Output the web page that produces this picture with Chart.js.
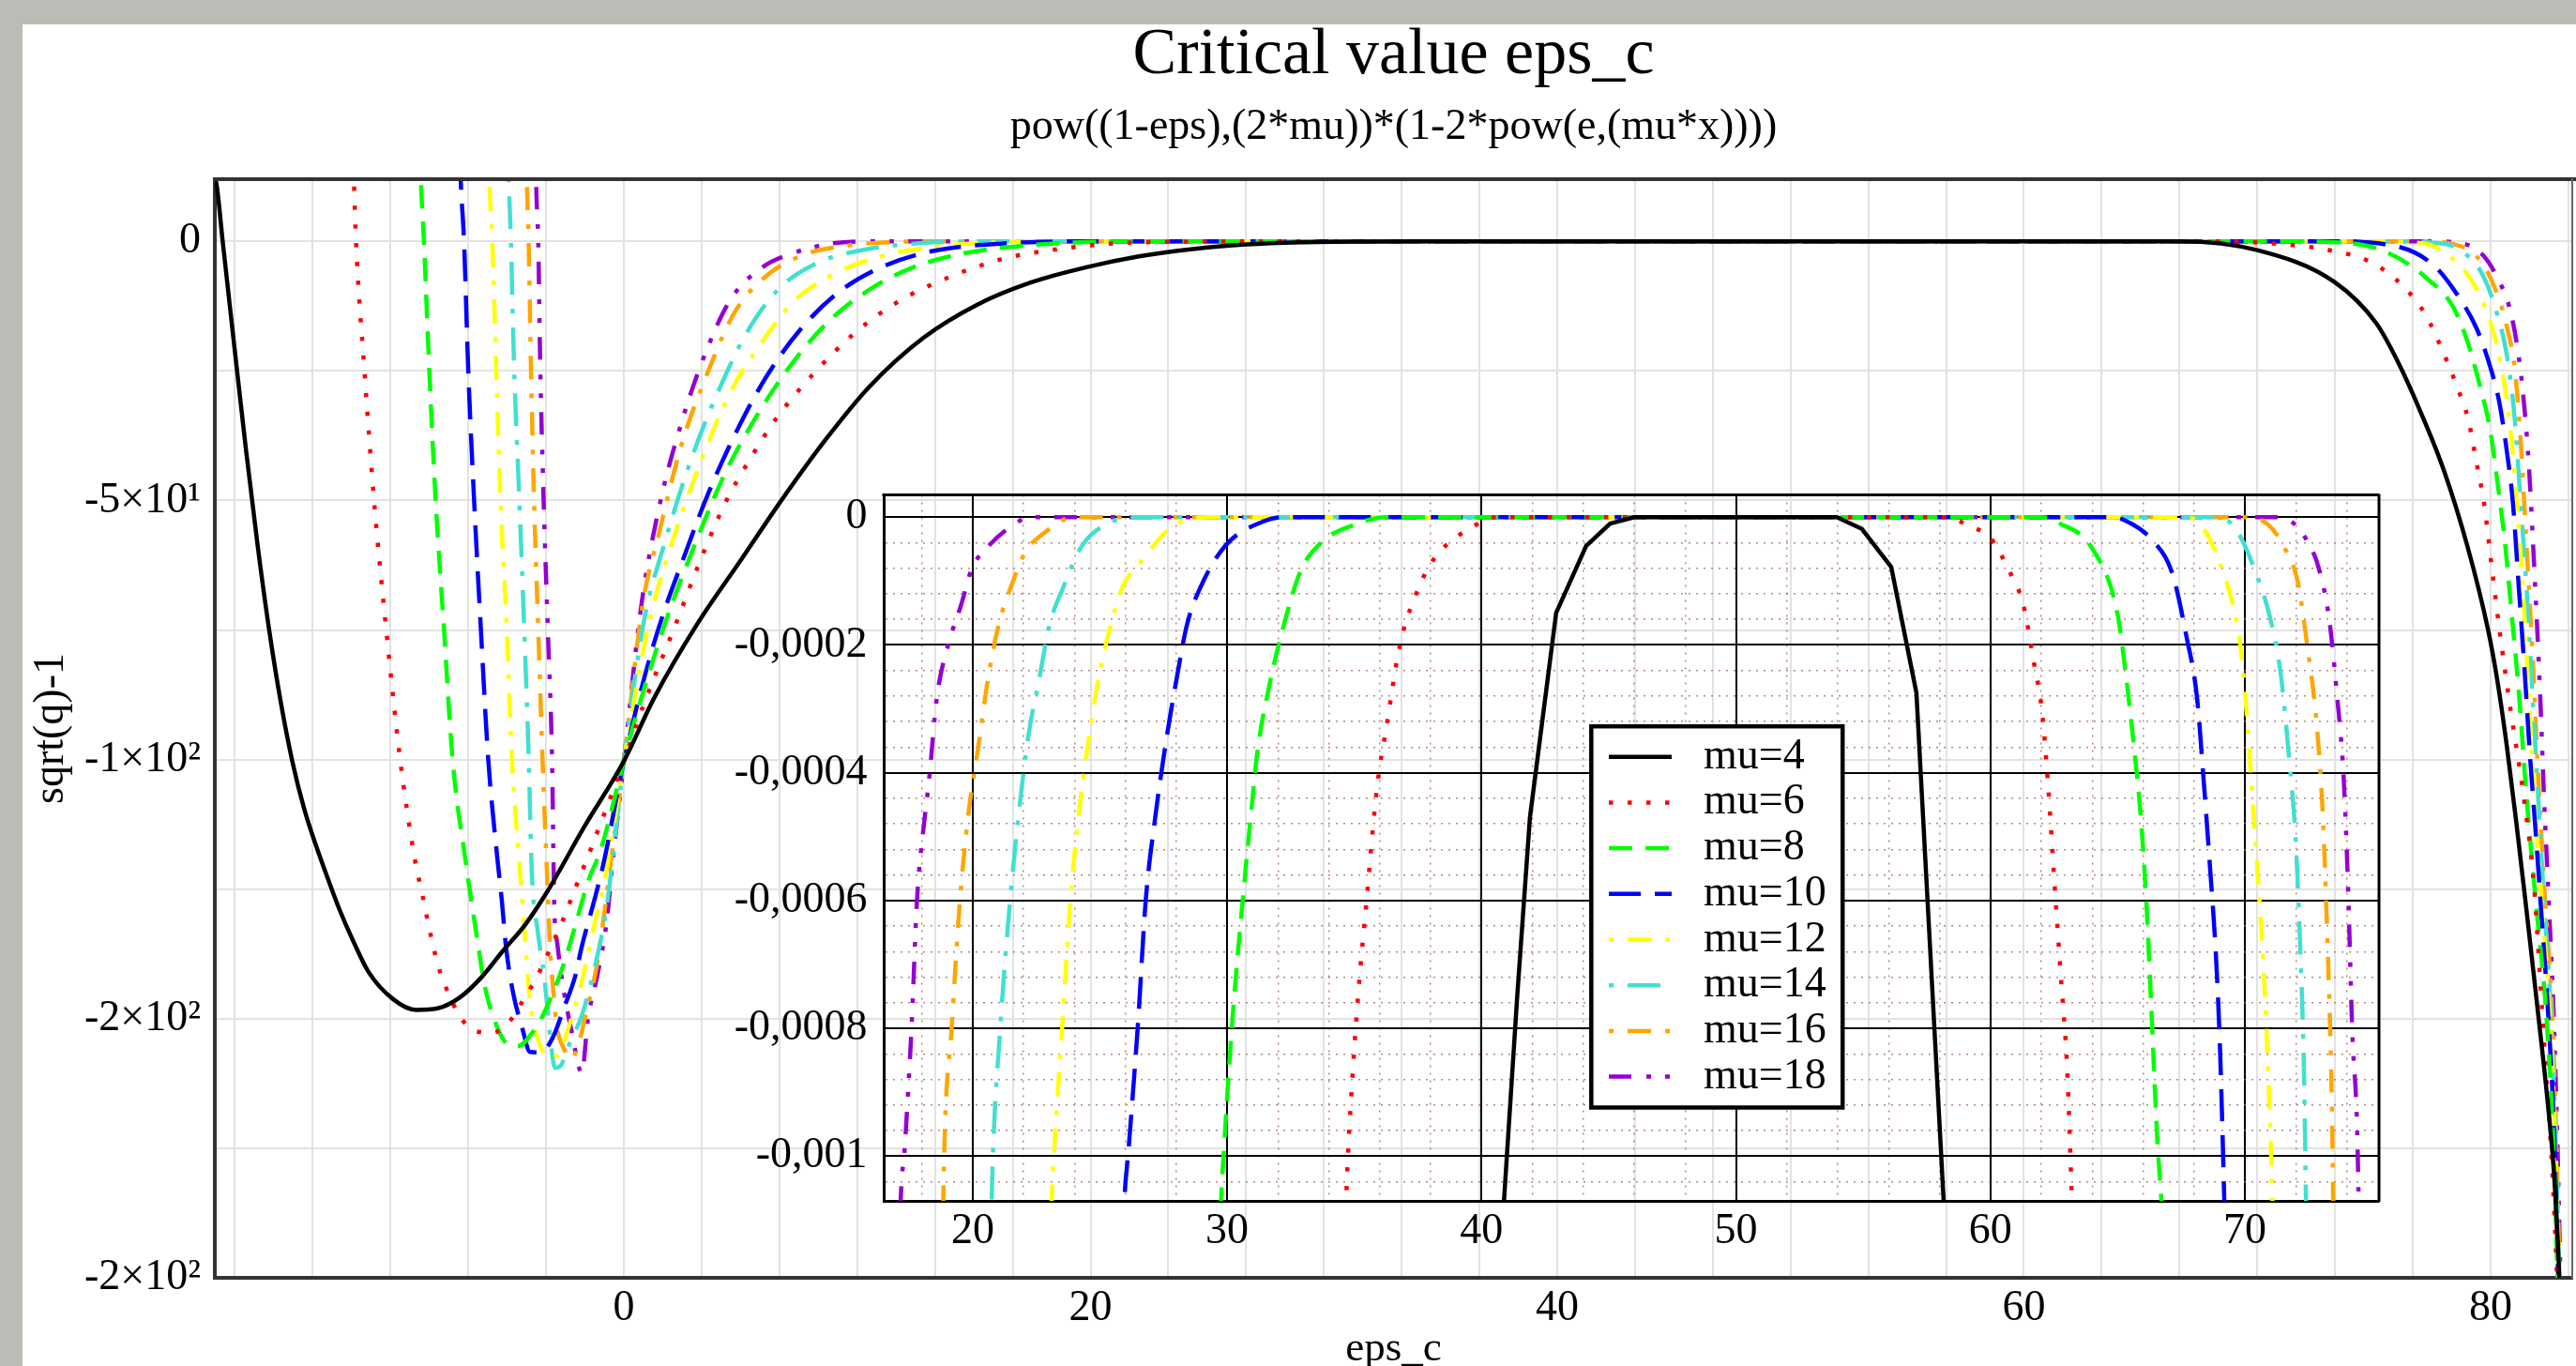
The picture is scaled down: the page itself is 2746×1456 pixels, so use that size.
<!DOCTYPE html>
<html>
<head>
<meta charset="utf-8">
<script src="https://cdn.jsdelivr.net/npm/chart.js@4.4.1/dist/chart.umd.min.js"></script>
<style>
html,body{margin:0;padding:0;background:#babcb6;width:2746px;height:1456px;overflow:hidden;}
#panel{position:absolute;left:24px;top:26px;width:2722px;height:1430px;background:#ffffff;}
#mainWrap{position:absolute;left:0;top:0;width:2746px;height:1456px;}
#insetWrap{position:absolute;left:780px;top:500px;width:1780px;height:860px;}
</style>
</head>
<body>
<div id="panel"></div>
<div id="mainWrap"><canvas id="main" width="2746" height="1456"></canvas></div>
<div id="insetWrap"><canvas id="inset" width="1780" height="860"></canvas></div>
<script>
// ---------------- DATA ----------------
const muLabels = ['mu=4','mu=6','mu=8','mu=10','mu=12','mu=14','mu=16','mu=18'];

const mainXTickValues = [0, 20, 40, 60, 80];
const mainXTickLabels = ['0', '20', '40', '60', '80'];
const mainYTickValues = [0, -50, -100, -150, -200];
const mainYTickLabels = ['0', '-5×10¹', '-1×10²', '-2×10²', '-2×10²'];

const insetXTickValues = [20, 30, 40, 50, 60, 70];
const insetXTickLabels = ['20', '30', '40', '50', '60', '70'];
const insetYTickValues = [0, -0.0002, -0.0004, -0.0006, -0.0008, -0.001];
const insetYTickLabels = ['0', '-0,0002', '-0,0004', '-0,0006', '-0,0008', '-0,001'];

const mainXRange = [-17.53, 83.5];
const mainYRange = [-200, 12];
const insetXRange = [16.52, 75.27];
const insetYRange = [-0.00107, 0.0000349];

// main chart series  [eps_c, sqrt(q)-1]
const main_mu4 = [[-17.6,13],[-17.45,10.8],[-17.2,0.3],[-16.7,-20],[-16.2,-40],[-15.7,-58.5],[-15.2,-75],[-14.7,-89],[-14.2,-100.5],[-13.7,-109.5],[-13.2,-116.5],[-12.7,-122.8],[-12.2,-128.8],[-11.6,-135],[-10.94,-141],[-9.87,-146.3],[-8.9,-148.3],[-7.98,-148],[-7.0,-145.8],[-6.1,-142],[-5.2,-137],[-4.22,-131.8],[-3.3,-125.6],[-1.7,-113],[0,-100.3],[1.3,-88.1],[3.15,-73.8],[5.0,-61.6],[6.84,-49.4],[8.69,-38.0],[10.53,-28.0],[12.84,-18.6],[15.15,-12.2],[17.46,-7.9],[19.77,-5.05],[22.07,-2.9],[24.38,-1.47],[26.69,-0.6],[29.0,-0.18],[31.5,-0.03],[34,0],[66.7,0],[70.0,-1.7],[73.3,-7.8],[75.1,-15.8],[76.0,-23],[77.0,-32.9],[78.0,-44.2],[79.0,-58.7],[79.89,-74.9],[80.3,-85],[80.7,-97.5],[81.1,-112],[81.5,-127.5],[82.0,-147.5],[82.5,-168.5],[82.75,-182],[82.95,-200.5],[83.05,-215]];
const main_mu6 = [[-11.7,25],[-11.57,11.6],[-11.48,0.1],[-11.12,-24.8],[-10.71,-49.8],[-10.19,-74.7],[-9.6,-99.5],[-8.98,-118.7],[-8.64,-126],[-8.31,-133.2],[-7.97,-139.6],[-7.64,-143.8],[-7.3,-147.3],[-6.97,-150],[-6.36,-152.4],[-5.63,-152.7],[-4.96,-150.9],[-4.49,-147.7],[-3.69,-141.6],[-3.35,-138.4],[-2.68,-131.7],[-2.08,-124.8],[-1.48,-118.0],[0,-100.3],[0.84,-89.5],[2.23,-73.8],[3.15,-63],[4.3,-50.9],[5.46,-41.6],[6.61,-33.7],[8.22,-25.1],[9.84,-17.9],[11.69,-11.8],[14.0,-6.8],[16.3,-3.3],[18.61,-1.5],[20.92,-0.4],[23.2,-0.1],[26,0],[68,0],[70.94,-0.5],[73.1,-1.7],[74.91,-4.1],[76.24,-8.6],[77.23,-14.3],[77.98,-21.5],[78.56,-28.0],[79.05,-34.5],[79.39,-42.5],[79.72,-50.6],[80.05,-62.8],[80.38,-74.9],[80.88,-91.1],[81.42,-107.2],[81.87,-124.8],[82.12,-142.3],[82.37,-159.8],[82.62,-177.3],[82.85,-200.4],[82.95,-215]];
const main_mu8 = [[-8.8,25],[-8.7,11.6],[-8.57,0.1],[-8.34,-24.8],[-8.07,-49.8],[-7.71,-74.7],[-7.35,-99.5],[-6.77,-120],[-6.5,-128.4],[-6.23,-136.2],[-6.0,-142.9],[-5.56,-150.1],[-4.96,-155],[-4.55,-155.3],[-3.89,-152.5],[-3.42,-148.9],[-2.61,-139.9],[-2.08,-132],[-1.54,-123.6],[-1.0,-117.5],[0,-100.3],[0.38,-93.8],[1.76,-73.8],[3.15,-57.3],[4.3,-45.1],[5.69,-33.7],[7.07,-24.4],[8.69,-15.8],[10.53,-9.3],[12.38,-5.05],[14.69,-2.2],[17.46,-0.7],[19.8,-0.15],[22,0],[71,0],[74.25,-0.5],[75.91,-2.9],[77.23,-7.0],[78.39,-12.6],[79.05,-19.9],[79.55,-28.0],[79.97,-36.1],[80.3,-46.6],[80.63,-58.7],[80.88,-70.8],[81.21,-87],[81.54,-107.2],[81.95,-128],[82.4,-150],[82.7,-175],[82.87,-200.4],[82.97,-215]];
const main_mu10 = [[-7.08,25],[-6.99,11.6],[-6.85,0.1],[-6.67,-24.8],[-6.42,-49.8],[-6.13,-74.7],[-5.82,-99.5],[-5.43,-118.7],[-5.23,-127.2],[-5.05,-136.2],[-4.76,-144.7],[-4.35,-151.9],[-4.02,-156.4],[-3.55,-156.5],[-3.02,-153.4],[-2.55,-147.7],[-2.08,-141.7],[-1.81,-136.2],[-1.27,-127.2],[-0.87,-120],[0,-100.3],[1.3,-77.4],[2.69,-59.5],[3.61,-48.7],[5.0,-35.1],[6.15,-25.8],[7.53,-17.2],[9.15,-10.0],[11.0,-5.05],[13.3,-1.8],[16.3,-0.4],[19,0],[73,0],[75.91,-0.9],[77.56,-4.6],[78.56,-10.2],[79.39,-16.7],[79.97,-24],[80.38,-31.2],[80.71,-40.9],[80.96,-50.6],[81.21,-66.8],[81.46,-83],[81.7,-100],[81.9,-112],[82.15,-128],[82.48,-150],[82.75,-175],[82.9,-200.4],[83.0,-215]];
const main_mu12 = [[-5.85,25],[-5.77,11.6],[-5.64,0.1],[-5.47,-24.8],[-5.29,-49.8],[-5.02,-74.7],[-4.8,-99.5],[-4.49,-119.4],[-4.35,-127.2],[-4.22,-135.6],[-4.09,-143.5],[-3.95,-148.9],[-3.69,-153.8],[-3.28,-157.4],[-2.88,-157.2],[-2.34,-151.3],[-1.81,-142.9],[-1.27,-132],[-0.74,-121.2],[0,-100.3],[1.07,-73.8],[2.23,-55.9],[3.38,-41.6],[4.53,-29.4],[5.92,-19.4],[7.3,-11.5],[8.92,-6.5],[11.0,-2.9],[13.8,-0.8],[16.6,-0.1],[18,0],[75,0],[77.23,-0.5],[78.39,-3.4],[79.22,-7.8],[79.89,-14.3],[80.38,-22.3],[80.8,-34.5],[81.13,-50.6],[81.38,-66.8],[81.63,-87],[81.87,-107.2],[82.2,-128],[82.55,-150],[82.78,-175],[82.93,-200.4],[83.03,-215]];
const main_mu14 = [[-5.0,25],[-4.93,11.6],[-4.84,0.1],[-4.7,-24.8],[-4.48,-49.8],[-4.27,-74.7],[-4.08,-99.5],[-3.95,-121.2],[-3.69,-133.2],[-3.42,-141.7],[-3.28,-147.7],[-3.15,-153.8],[-2.95,-159.5],[-2.7,-159],[-2.3,-154.5],[-1.81,-149.5],[-1.27,-140.5],[-0.74,-128.4],[0,-100.3],[0.84,-73.8],[1.76,-58.0],[2.92,-41.6],[4.07,-28.7],[5.23,-17.9],[6.61,-9.3],[8.22,-4.3],[10.07,-1.8],[12.8,-0.3],[15,0],[76,0],[78.06,-0.5],[79.05,-2.9],[79.72,-7.0],[80.3,-14.3],[80.71,-22.3],[81.04,-34.5],[81.29,-50.6],[81.54,-66.8],[81.79,-87],[82.04,-107.2],[82.3,-128],[82.6,-150],[82.8,-175],[82.95,-200.4],[83.05,-215]];
const main_mu16 = [[-4.22,25],[-4.16,11.6],[-4.08,0.1],[-3.98,-24.8],[-3.85,-49.8],[-3.67,-74.7],[-3.49,-99.5],[-3.28,-123.6],[-3.15,-137.5],[-3.02,-144.7],[-2.88,-151.3],[-2.6,-155.5],[-2.25,-157.8],[-1.95,-155],[-1.68,-150.1],[-1.14,-139.2],[-0.6,-121.2],[0,-100.3],[0.8,-70.2],[1.53,-55.9],[2.46,-39.4],[3.61,-25.1],[4.76,-13.6],[6.15,-6.5],[7.76,-2.5],[9.4,-0.9],[11.7,-0.1],[13,0],[77,0],[78.72,-0.9],[79.55,-3.7],[80.22,-9.4],[80.71,-16.7],[81.04,-24.8],[81.29,-38.5],[81.54,-58.7],[81.79,-78.9],[82.04,-103.2],[82.35,-128],[82.65,-150],[82.83,-175],[82.97,-200.4],[83.07,-215]];
const main_mu18 = [[-3.8,25],[-3.76,11.6],[-3.67,0.1],[-3.58,-24.8],[-3.44,-49.8],[-3.26,-74.7],[-3.08,-99.5],[-2.98,-128.4],[-2.85,-135.6],[-2.55,-145.3],[-2.21,-153.1],[-1.95,-159],[-1.8,-160.4],[-1.54,-150.1],[-1.14,-141.7],[-0.74,-131.4],[-0.47,-119.4],[0,-100.3],[0.75,-70.2],[1.53,-50.9],[2.46,-35.1],[3.38,-22.9],[4.53,-11.5],[5.92,-5.05],[7.3,-2.2],[8.92,-0.4],[10.5,0],[77.5,0],[78.89,-0.5],[79.72,-2.9],[80.38,-7.8],[80.8,-12.6],[81.13,-19.9],[81.38,-28.8],[81.63,-42.5],[81.87,-62.8],[82.12,-87],[82.29,-107.2],[82.5,-128],[82.71,-150],[82.87,-175],[83.0,-200.4],[83.1,-215]];

// inset (zoom near 0) series
const inset_mu4 = [[40.71,-0.0012],[40.88,-0.00107],[41.4,-0.00075],[41.9,-0.00047],[42.93,-0.00015],[44.11,-0.000045],[45.05,-0.00001],[46.0,0],[53.96,0],[54.95,-0.0000184],[56.1,-0.000078],[57.09,-0.000275],[58.16,-0.00107],[58.33,-0.0012]];
const inset_mu6 = [[34.55,-0.0012],[34.68,-0.001065],[34.74,-0.001006],[34.95,-0.00086],[35.16,-0.000742],[35.48,-0.0006],[35.81,-0.000453],[36.0,-0.00039],[36.23,-0.000336],[36.46,-0.000277],[36.7,-0.000218],[37.05,-0.00016],[37.29,-0.000135],[37.52,-0.000111],[37.88,-0.000081],[38.35,-0.000054],[38.82,-0.000037],[39.52,-0.000018],[40.58,0],[58.5,0],[58.73,-0.000005],[59.31,-0.000016],[59.97,-0.000031],[60.71,-0.000082],[61.29,-0.000137],[61.69,-0.000224],[62.03,-0.000305],[62.27,-0.000422],[62.52,-0.000575],[62.77,-0.000721],[63.02,-0.000867],[63.18,-0.001046],[63.3,-0.0012]];
const inset_mu8 = [[29.65,-0.0012],[29.76,-0.00107],[29.87,-0.000992],[30.19,-0.000796],[30.61,-0.0006],[30.93,-0.000468],[31.18,-0.00037],[31.71,-0.000254],[32.24,-0.000167],[32.88,-0.000085],[33.72,-0.000039],[35.0,-0.000012],[36.26,0],[62.03,0],[62.68,-0.000009],[64.0,-0.000049],[64.99,-0.000151],[65.32,-0.000246],[65.65,-0.000363],[65.9,-0.000465],[66.14,-0.000612],[66.31,-0.000758],[66.56,-0.000977],[66.72,-0.00107],[66.9,-0.0012]];
const inset_mu10 = [[25.85,-0.0012],[25.96,-0.00107],[26.12,-0.000992],[26.49,-0.000796],[26.8,-0.0006],[27.18,-0.000468],[27.59,-0.000353],[28.01,-0.000254],[28.43,-0.000167],[28.96,-0.000109],[29.92,-0.000045],[31.4,-0.000007],[32.24,0],[64.83,0],[65.48,-0.000009],[66.31,-0.000034],[67.13,-0.000086],[67.71,-0.000188],[68.12,-0.000283],[68.37,-0.000407],[68.61,-0.000538],[68.86,-0.000685],[69.02,-0.00083],[69.19,-0.00107],[69.27,-0.0012]];
const inset_mu12 = [[23.0,-0.0012],[23.1,-0.00107],[23.2,-0.000992],[23.52,-0.000796],[23.84,-0.0006],[24.16,-0.000468],[24.52,-0.000358],[24.94,-0.000254],[25.36,-0.000179],[25.89,-0.000109],[26.53,-0.000074],[27.8,-0.000016],[29.28,0],[67.62,0],[68.28,-0.000012],[68.94,-0.000064],[69.52,-0.000137],[69.85,-0.00021],[70.09,-0.000319],[70.34,-0.000465],[70.59,-0.000612],[70.84,-0.000794],[71.08,-0.00107],[71.15,-0.0012]];
const inset_mu14 = [[20.68,-0.0012],[20.77,-0.00103],[21.09,-0.000796],[21.47,-0.0006],[21.85,-0.00045],[22.19,-0.000342],[22.61,-0.000254],[23.03,-0.000167],[23.57,-0.000109],[24.2,-0.000051],[24.83,-0.0000217],[26.32,0],[68.78,0],[69.6,-0.000016],[70.42,-0.000086],[71.0,-0.000159],[71.41,-0.000246],[71.74,-0.000378],[71.99,-0.000502],[72.15,-0.000648],[72.32,-0.000867],[72.4,-0.00107],[72.45,-0.0012]];
const inset_mu16 = [[18.8,-0.0012],[18.86,-0.00103],[19.18,-0.000796],[19.5,-0.0006],[19.82,-0.000468],[20.18,-0.00037],[20.6,-0.000254],[21.03,-0.000167],[21.56,-0.000103],[22.08,-0.000054],[22.72,-0.0000275],[23.99,0],[70.09,0],[70.92,-0.000012],[71.57,-0.000049],[72.07,-0.0001],[72.48,-0.00021],[72.81,-0.000319],[73.06,-0.000465],[73.23,-0.000648],[73.39,-0.000867],[73.47,-0.00107],[73.5,-0.0012]];
const inset_mu18 = [[17.1,-0.0012],[17.17,-0.00107],[17.32,-0.000992],[17.6,-0.000796],[17.81,-0.0006],[18.12,-0.000468],[18.27,-0.000417],[18.59,-0.000283],[19.02,-0.000202],[19.54,-0.000138],[19.97,-0.00008],[20.49,-0.000051],[21.45,-0.000016],[22.29,0],[71.25,0],[71.9,-0.000009],[72.4,-0.000034],[72.89,-0.000078],[73.31,-0.000159],[73.63,-0.000283],[73.88,-0.000407],[74.05,-0.000575],[74.21,-0.000794],[74.46,-0.00105],[74.5,-0.0012]];

const mainSeries = [main_mu4, main_mu6, main_mu8, main_mu10, main_mu12, main_mu14, main_mu16, main_mu18];
const insetSeries = [inset_mu4, inset_mu6, inset_mu8, inset_mu10, inset_mu12, inset_mu14, inset_mu16, inset_mu18];

// ---------------- STYLES ----------------
const FONT = "'Liberation Serif', 'Times New Roman', serif";
const seriesColors = ['#000000', '#ff0000', '#00ff00', '#0000ff', '#ffff00', '#40e0d0', '#ffa500', '#9400d3'];
const seriesDashes = [[], [4.5, 15.5], [25, 14], [34, 15], [5, 15, 26, 14], [5, 15, 35, 15], [5, 15, 25, 15], [24, 16, 5, 15, 5, 15]];
const LINE_W = 4.5;

function gridValues(min, max, step) {
  const out = [];
  const k0 = Math.ceil(min / step - 1e-9), k1 = Math.floor(max / step + 1e-9);
  for (let k = k0; k <= k1; k++) out.push(k * step);
  return out;
}
function labelFor(v, values, labels) {
  for (let i = 0; i < values.length; i++) {
    if (Math.abs(v - values[i]) <= 1e-12 + 1e-6 * Math.abs(values[i])) return labels[i];
  }
  return '';
}
function isMultiple(v, step) {
  const r = v / step;
  return Math.abs(r - Math.round(r)) < 1e-6;
}

const framePlugin = {
  id: 'frame',
  afterDraw(chart, args, opts) {
    const {left, right, top, bottom} = chart.chartArea;
    const ctx = chart.ctx;
    ctx.save();
    (opts.sides || []).forEach(s => {
      ctx.beginPath();
      ctx.setLineDash([]);
      ctx.lineWidth = s.width;
      ctx.strokeStyle = s.color;
      if (s.side === 'top') { ctx.moveTo(left - 2, top); ctx.lineTo(right + (s.extend || 0), top); }
      if (s.side === 'right') { ctx.moveTo(right, top - 1); ctx.lineTo(right, bottom + 1); }
      ctx.stroke();
    });
    ctx.restore();
  }
};

const insetLegendPlugin = {
  id: 'insetLegend',
  afterDraw(chart, args, o) {
    const ctx = chart.ctx;
    ctx.save();
    ctx.fillStyle = '#ffffff';
    ctx.fillRect(o.left, o.top, o.right - o.left, o.bottom - o.top);
    ctx.lineWidth = o.borderWidth;
    ctx.strokeStyle = '#000000';
    ctx.setLineDash([]);
    ctx.strokeRect(o.left, o.top, o.right - o.left, o.bottom - o.top);
    chart.data.datasets.forEach((ds, i) => {
      const y = o.firstRow + i * o.rowStep;
      ctx.beginPath();
      ctx.setLineDash(ds.borderDash || []);
      ctx.lineCap = 'butt';
      ctx.strokeStyle = ds.borderColor;
      ctx.lineWidth = ds.borderWidth;
      ctx.moveTo(o.sampleX0, y);
      ctx.lineTo(o.sampleX1, y);
      ctx.stroke();
      ctx.setLineDash([]);
      ctx.fillStyle = '#000000';
      ctx.font = o.fontSize + 'px ' + FONT;
      ctx.textBaseline = 'middle';
      ctx.textAlign = 'left';
      ctx.fillText(ds.label, o.textX, y);
    });
    ctx.restore();
  }
};

function makeDatasets(seriesList, smoothFirst) {
  return seriesList.map((d, i) => ({
    label: muLabels[i],
    data: d,
    borderColor: seriesColors[i],
    backgroundColor: seriesColors[i],
    borderDash: seriesDashes[i],
    borderWidth: LINE_W,
    borderCapStyle: 'butt',
    borderJoinStyle: 'round',
    pointRadius: 0,
    fill: false,
    tension: (i === 0 && !smoothFirst) ? 0 : 0.4,
    cubicInterpolationMode: (i === 0 && !smoothFirst) ? 'default' : 'monotone'
  }));
}

// ---------------- MAIN CHART ----------------
const mainXGrid = gridValues(mainXRange[0], mainXRange[1], 10 / 3);
const mainYGrid = gridValues(mainYRange[0], mainYRange[1], 25);

new Chart(document.getElementById('main'), {
  type: 'line',
  data: { datasets: makeDatasets(mainSeries, true) },
  plugins: [framePlugin],
  options: {
    responsive: false,
    maintainAspectRatio: false,
    devicePixelRatio: 1,
    animation: false,
    events: [],
    layout: { padding: { left: 24, right: 4, top: 0, bottom: 0 }, autoPadding: false },
    plugins: {
      legend: { display: false },
      tooltip: { enabled: false },
      title: { display: true, text: 'Critical value eps_c', color: '#000', fullSize: false,
               font: { family: FONT, size: 70, weight: 'normal' }, padding: { top: 18, bottom: 0 } },
      subtitle: { display: true, text: 'pow((1-eps),(2*mu))*(1-2*pow(e,(mu*x))))', color: '#000', fullSize: false,
               font: { family: FONT, size: 46, weight: 'normal' }, padding: { top: 6, bottom: 27.8 } },
      frame: { sides: [ { side: 'top', width: 4, color: '#333333', extend: 10 }, { side: 'right', width: 2, color: '#666666' } ] }
    },
    scales: {
      x: {
        type: 'linear', position: 'bottom', min: mainXRange[0], max: mainXRange[1],
        afterBuildTicks: s => { s.ticks = mainXGrid.map(v => ({ value: v })); },
        afterFit: s => { s.height = 94; s.paddingLeft = 0; s.paddingRight = 0; },
        grid: { color: '#e2e2e2', lineWidth: 2, drawTicks: false },
        border: { color: '#333333', width: 4 },
        ticks: { color: '#000', font: { family: FONT, size: 46 }, padding: 5, autoSkip: false, maxRotation: 0,
                 callback: v => labelFor(v, mainXTickValues, mainXTickLabels) },
        title: { display: true, text: 'eps_c', color: '#000', font: { family: FONT, size: 45, lineHeight: 0.8 }, padding: { top: 0, bottom: 0 } }
      },
      y: {
        type: 'linear', position: 'left', min: mainYRange[0], max: mainYRange[1],
        afterBuildTicks: s => { s.ticks = mainYGrid.map(v => ({ value: v })); },
        afterFit: s => { s.width = 205; s.paddingTop = 0; s.paddingBottom = 0; },
        grid: { color: '#e2e2e2', lineWidth: 2, drawTicks: false },
        border: { color: '#333333', width: 4 },
        ticks: { color: '#000', font: { family: FONT, size: 46 }, padding: 15, autoSkip: false,
                 callback: v => labelFor(v, mainYTickValues, mainYTickLabels) },
        title: { display: true, text: 'sqrt(q)-1', color: '#000', font: { family: FONT, size: 46 }, padding: { top: 3, bottom: 0 } }
      }
    }
  }
});

// ---------------- INSET CHART ----------------
const insetXGrid = gridValues(insetXRange[0], insetXRange[1], 2);
const insetYGrid = gridValues(insetYRange[0], insetYRange[1], 0.00004);
const MINOR_COLOR = 'rgba(160,95,95,0.75)';

new Chart(document.getElementById('inset'), {
  type: 'line',
  data: { datasets: makeDatasets(insetSeries, false) },
  plugins: [framePlugin, insetLegendPlugin],
  options: {
    responsive: false,
    maintainAspectRatio: false,
    devicePixelRatio: 1,
    animation: false,
    events: [],
    layout: { padding: { left: 0, right: 24, top: 27.5, bottom: 0 }, autoPadding: false },
    plugins: {
      legend: { display: false },
      tooltip: { enabled: false },
      frame: { sides: [ { side: 'top', width: 3, color: '#000' }, { side: 'right', width: 3, color: '#000' } ] },
      insetLegend: { left: 916.3, right: 1184.2, top: 274.2, bottom: 680.5, borderWidth: 4.5,
                     firstRow: 306.7, rowStep: 48.7, sampleX0: 935, sampleX1: 1002, textX: 1036, fontSize: 46 }
    },
    scales: {
      x: {
        type: 'linear', position: 'bottom', min: insetXRange[0], max: insetXRange[1],
        afterBuildTicks: s => { s.ticks = insetXGrid.map(v => ({ value: v })); },
        afterFit: s => { s.height = 80; s.paddingLeft = 0; s.paddingRight = 0; },
        grid: {
          drawTicks: false,
          color: c => (c.tick && isMultiple(c.tick.value, 10)) ? '#000000' : MINOR_COLOR,
          lineWidth: c => (c.tick && isMultiple(c.tick.value, 10)) ? 2 : 1.5
        },
        border: { color: '#000', width: 3, dash: c => (c.tick && isMultiple(c.tick.value, 10)) ? [] : [2, 6] },
        ticks: { color: '#000', font: { family: FONT, size: 46 }, padding: 5, autoSkip: false, maxRotation: 0,
                 callback: v => labelFor(v, insetXTickValues, insetXTickLabels) }
      },
      y: {
        type: 'linear', position: 'left', min: insetYRange[0], max: insetYRange[1],
        afterBuildTicks: s => { s.ticks = insetYGrid.map(v => ({ value: v })); },
        afterFit: s => { s.width = 162.5; s.paddingTop = 0; s.paddingBottom = 0; },
        grid: {
          drawTicks: false,
          color: c => (c.tick && isMultiple(c.tick.value, 0.0002)) ? '#000000' : MINOR_COLOR,
          lineWidth: c => (c.tick && isMultiple(c.tick.value, 0.0002)) ? 2 : 1.5
        },
        border: { color: '#000', width: 3, dash: c => (c.tick && isMultiple(c.tick.value, 0.0002)) ? [] : [2, 6] },
        ticks: { color: '#000', font: { family: FONT, size: 46 }, padding: 18, autoSkip: false,
                 callback: v => labelFor(v, insetYTickValues, insetYTickLabels) }
      }
    }
  }
});
</script>
</body>
</html>
